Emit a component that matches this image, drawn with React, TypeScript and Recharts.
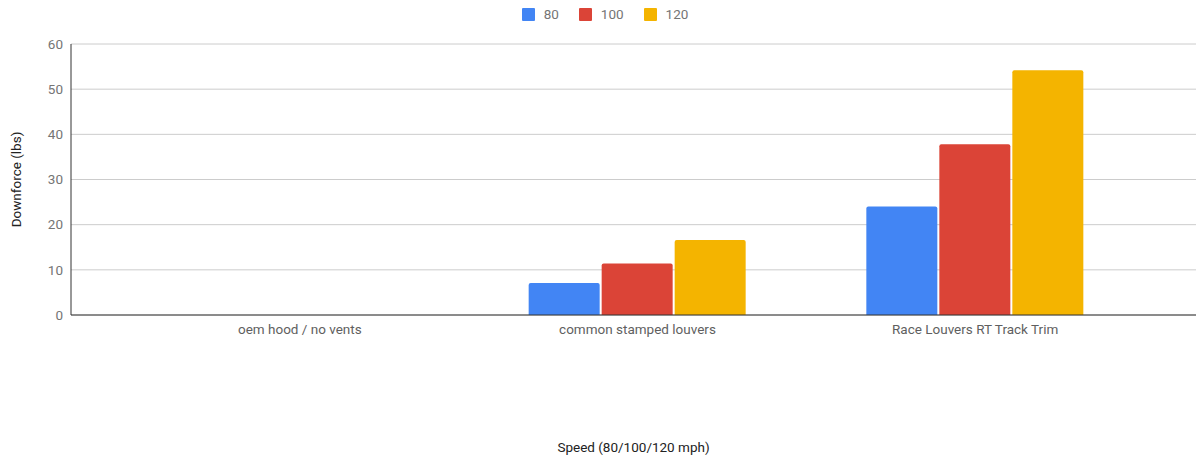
import React from "react";
import {
  BarChart,
  Bar,
  XAxis,
  YAxis,
  CartesianGrid,
  Legend,
  Label,
} from "recharts";

const categories = [
  "oem hood / no vents",
  "common stamped louvers",
  "Race Louvers RT Track Trim",
];
const speed80 = [0, 7.1, 24];
const speed100 = [0, 11.4, 37.8];
const speed120 = [0, 16.6, 54.2];
const yTicks = [0, 10, 20, 30, 40, 50, 60];

const seriesNames = ["80", "100", "120"];
const seriesColors = ["#4285f4", "#db4437", "#f4b400"];

const data = categories.map((name, i) => ({
  name,
  s80: speed80[i],
  s100: speed100[i],
  s120: speed120[i],
}));

const FONT = "Roboto, Arial, sans-serif";
const FS = 13.5;

function LegendBox() {
  return (
    <div
      style={{
        height: 30,
        display: "flex",
        justifyContent: "center",
        alignItems: "flex-start",
        paddingLeft: 34,
        fontFamily: FONT,
        fontSize: FS,
        color: "#757575",
      }}
    >
      {seriesNames.map((n, i) => (
        <div
          key={n}
          style={{ display: "flex", alignItems: "center", marginRight: 20, marginTop: 6 }}
        >
          <span
            style={{
              width: 13,
              height: 13,
              background: seriesColors[i],
              borderRadius: 1,
              marginRight: 9,
              display: "inline-block",
            }}
          />
          <span>{n}</span>
        </div>
      ))}
    </div>
  );
}

export default function App() {
  return (
    <div style={{ width: 1196, height: 461, background: "#fff" }}>
      <style>{`body{margin:0}`}</style>
      <BarChart
        width={1196}
        height={461}
        data={data}
        margin={{ top: 14, right: 0, bottom: 0, left: 0 }}
        barSize={71}
        barGap={2}
      >
        <Legend
          verticalAlign="top"
          content={() => <LegendBox />}
          wrapperStyle={{ left: 0, width: 1196, top: 0 }}
        />
        <CartesianGrid vertical={false} stroke="#cccccc" />
        <XAxis
          dataKey="name"
          height={146}
          padding={{ left: 60, right: 52 }}
          tickLine={false}
          tickMargin={3}
          axisLine={{ stroke: "#333333" }}
          tick={{ fill: "#5f5f5f", fontSize: FS, fontFamily: FONT }}
        >
          <Label
            value="Speed (80/100/120 mph)"
            position="insideBottom"
            offset={9}
            style={{ fill: "#222222", fontSize: FS, fontFamily: FONT }}
          />
        </XAxis>
        <YAxis
          width={71}
          domain={[0, 60]}
          ticks={yTicks}
          interval={0}
          tickLine={false}
          tickMargin={2}
          axisLine={{ stroke: "#333333" }}
          tick={{ fill: "#757575", fontSize: FS, fontFamily: FONT }}
        >
          <Label
            value="Downforce (lbs)"
            angle={-90}
            position="insideLeft"
            offset={16}
            style={{
              textAnchor: "middle",
              fill: "#222222",
              fontSize: FS,
              fontFamily: FONT,
            }}
          />
        </YAxis>
        <Bar dataKey="s80" name={seriesNames[0]} fill={seriesColors[0]} radius={[2, 2, 0, 0]} isAnimationActive={false} />
        <Bar dataKey="s100" name={seriesNames[1]} fill={seriesColors[1]} radius={[2, 2, 0, 0]} isAnimationActive={false} />
        <Bar dataKey="s120" name={seriesNames[2]} fill={seriesColors[2]} radius={[2, 2, 0, 0]} isAnimationActive={false} />
      </BarChart>
    </div>
  );
}
